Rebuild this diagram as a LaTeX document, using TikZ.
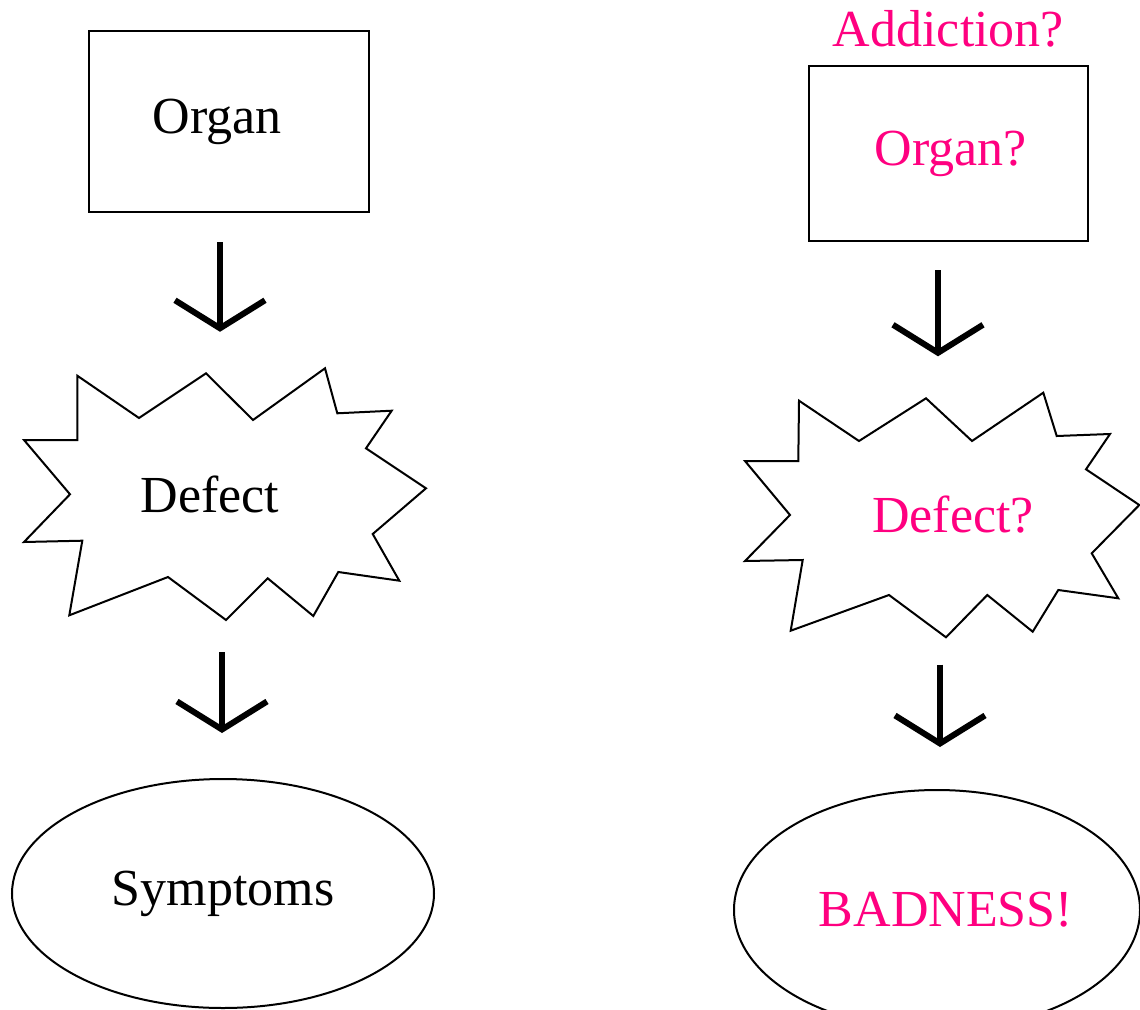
\documentclass[tikz,border=0pt]{standalone}
\usepackage{fontspec}
\setmainfont{Liberation Serif}
\usepackage{xcolor}
\usepackage{tikz}
\usetikzlibrary{arrows.meta,positioning,shapes.geometric,calc}
\definecolor{hotpink}{HTML}{FF0080}

\begin{document}
\begin{tikzpicture}[
  x=1pt, y=-1pt,
  every node/.style={font=\fontsize{52}{60}\selectfont},
  box/.style={draw, line width=2pt, inner sep=0pt},
  blob/.style={draw, ellipse, line width=2pt, inner sep=0pt},
  burst/.style={draw, line width=2pt, line join=miter},
  area/.style={inner sep=0pt},
  query/.style={text=hotpink},
  arrow/.style={-{Straight Barb[length=28pt, width=90pt]}, line width=6pt}
]
  \useasboundingbox (0,0) rectangle (1140,1009);
  \clip (0,0) rectangle (1140,1009);

  % left column
  \node[box, minimum width=280pt, minimum height=181pt] (organ) at (229,121.5) {\hspace*{-24pt}Organ};
  \draw[burst] (77.3,375.7) -- (139,418) -- (206,373.3) -- (253,420) -- (325,368.3)
    -- (337.3,413.3) -- (391.7,410.7) -- (366,448.3) -- (426,488.3) -- (372.7,534)
    -- (399.3,580.7) -- (338.3,572) -- (313.3,616) -- (267.7,578.3) -- (226,620)
    -- (168,577) -- (69.3,615.3) -- (82.3,540.7) -- (24,542) -- (70,494.3)
    -- (24,440) -- (77.3,440) -- cycle;
  \node[area, minimum width=402pt, minimum height=252pt] (defect) at (225,494) {\hspace*{-30pt}Defect};
  \node[blob, minimum width=422pt, minimum height=229pt] (symptoms) at (223,893.5) {Symptoms};

  \draw[arrow, shorten <=29pt, shorten >=36pt]
    ($(organ.south)+(-9,0)$) -- ($(organ.south |- defect.north)+(-9,0)$);
  \draw[arrow, shorten <=32pt, shorten >=45pt]
    ($(defect.south)+(-3,0)$) -- ($(defect.south |- symptoms.north)+(-3,0)$);

  % right column
  \node[box, query, minimum width=279pt, minimum height=175pt] (organq) at (948.5,153.5) {Organ?\hspace*{-4pt}};
  \node[query, above=14pt of organq] (addiction) {Addiction?};
  \draw[burst] (799,400.7) -- (859,441) -- (926,398.3) -- (972,441) -- (1043.3,392.7)
    -- (1056.7,436) -- (1110,434) -- (1086,469.3) -- (1139.3,505) -- (1091.7,553.3)
    -- (1118.3,598.3) -- (1058.3,590) -- (1032.7,631.7) -- (987.3,595) -- (946,637.3)
    -- (889,595) -- (790.7,630.7) -- (802.7,560) -- (745,561) -- (790,515)
    -- (745,461) -- (798.3,461) -- cycle;
  \node[area, query, minimum width=394pt, minimum height=245pt] (defectq) at (942,515) {Defect?\hspace*{-22pt}};
  \node[blob, query, minimum width=406pt, minimum height=240pt] (badness) at (937,910) {BADNESS!\hspace*{-18pt}};

  \draw[arrow, shorten <=28pt, shorten >=36pt]
    ($(organq.south)+(-10.5,0)$) -- ($(organq.south |- defectq.north)+(-10.5,0)$);
  \draw[arrow, shorten <=27pt, shorten >=42pt]
    ($(defectq.south)+(-2,0)$) -- ($(defectq.south |- badness.north)+(-2,0)$);
\end{tikzpicture}
\end{document}
